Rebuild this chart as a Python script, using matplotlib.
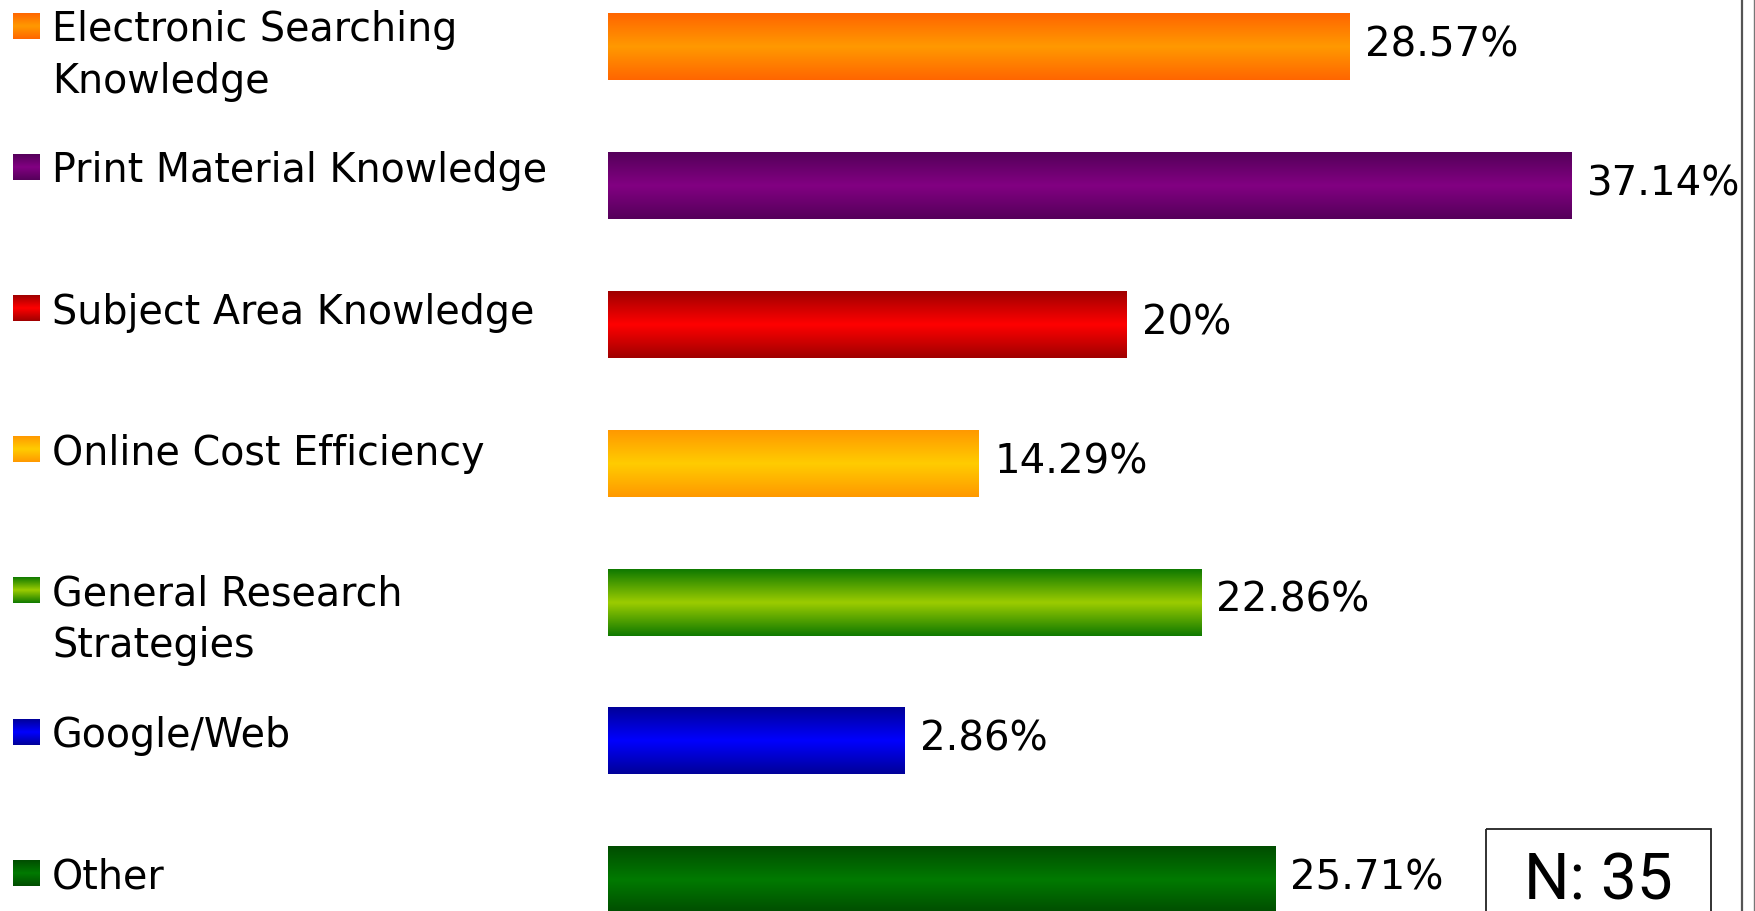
import matplotlib
import matplotlib.pyplot as plt
import numpy as np
from matplotlib.colors import to_rgb
from matplotlib.patches import Rectangle

matplotlib.use("Agg")

# data (N = 35 respondents)
categories = [
    "Electronic Searching\nKnowledge",
    "Print Material Knowledge",
    "Subject Area Knowledge",
    "Online Cost Efficiency",
    "General Research\nStrategies",
    "Google/Web",
    "Other",
]
values = [28.57, 37.14, 20.0, 14.29, 22.86, 11.43, 25.71]  # bar lengths as drawn
value_labels = ["28.57%", "37.14%", "20%", "14.29%", "22.86%", "2.86%", "25.71%"]
n_label = "N: 35"

# (edge colour, centre colour) of the vertical gradient on each bar
edge_colors = ["#ff6600", "#55005a", "#a00000", "#ff9900", "#107a00", "#000099", "#004d00"]
center_colors = ["#ff9900", "#820082", "#ff0000", "#ffcc00", "#9ccc00", "#0000ff", "#007a00"]

W, H = 1755, 911
fig = plt.figure(figsize=(W / 100, H / 100), dpi=100)
fig.patch.set_facecolor("white")


def gradient(edge, center, n=64):
    t = np.abs(np.linspace(-1, 1, n))[:, None]
    e = np.array(to_rgb(edge))[None, :]
    c = np.array(to_rgb(center))[None, :]
    return (c * (1 - t) + e * t)[:, None, :]


# bar axes: zero sits at x=608px, 25.95 px per percent
x0_px, x1_px = 608, 1741
ax = fig.add_axes([x0_px / W, 0, (x1_px - x0_px) / W, 1])
ax.axis("off")

pos = np.arange(len(values))
bars = ax.barh(pos, values, height=0.48, color=center_colors, zorder=1)
for rect, e, c in zip(bars, edge_colors, center_colors):
    bx, by, bw, bh = rect.get_x(), rect.get_y(), rect.get_width(), rect.get_height()
    ax.imshow(gradient(e, c), extent=[bx, bx + bw, by + bh, by], aspect="auto",
              interpolation="bilinear", zorder=2)

for p, v, lab in zip(pos, values, value_labels):
    ax.annotate(lab, (v, p), xytext=(11, 1), textcoords="offset points",
                ha="left", va="center", fontsize=29, family="DejaVu Sans", color="black")

ax.set_xlim(0, (x1_px - x0_px) / 25.95)
ax.set_ylim((H - 47) / 138.8, -47 / 138.8)

# legend drawn in pixel space on the left
lax = fig.add_axes([0, 0, 1, 1], zorder=-1)
lax.axis("off")
for i, (cat, e, c) in enumerate(zip(categories, edge_colors, center_colors)):
    yc = 25.7 + 141.2 * i
    lax.imshow(gradient(e, c), extent=[13, 40, yc + 13, yc - 13], aspect="auto",
               interpolation="bilinear")
    for j, line in enumerate(cat.split("\n")):
        lax.text(52, yc + 51.5 * j, line, ha="left", va="center_baseline",
                 fontsize=28.5, family="DejaVu Sans", color="black")
lax.set_xlim(0, W)
lax.set_ylim(H, 0)

# N box and frame lines at the right edge
lax.add_patch(Rectangle((1486, 829), 225, 120, fill=False, edgecolor="#222222", linewidth=1.3))
lax.text(1598, 881, n_label, ha="center", va="center", fontsize=46, family="Roboto")
lax.plot([1742, 1742], [0, H], color="#555555", linewidth=1.6)
lax.plot([1754, 1754], [0, H], color="#777777", linewidth=1.0)

fig.savefig("out.png", dpi=100, facecolor="white")
